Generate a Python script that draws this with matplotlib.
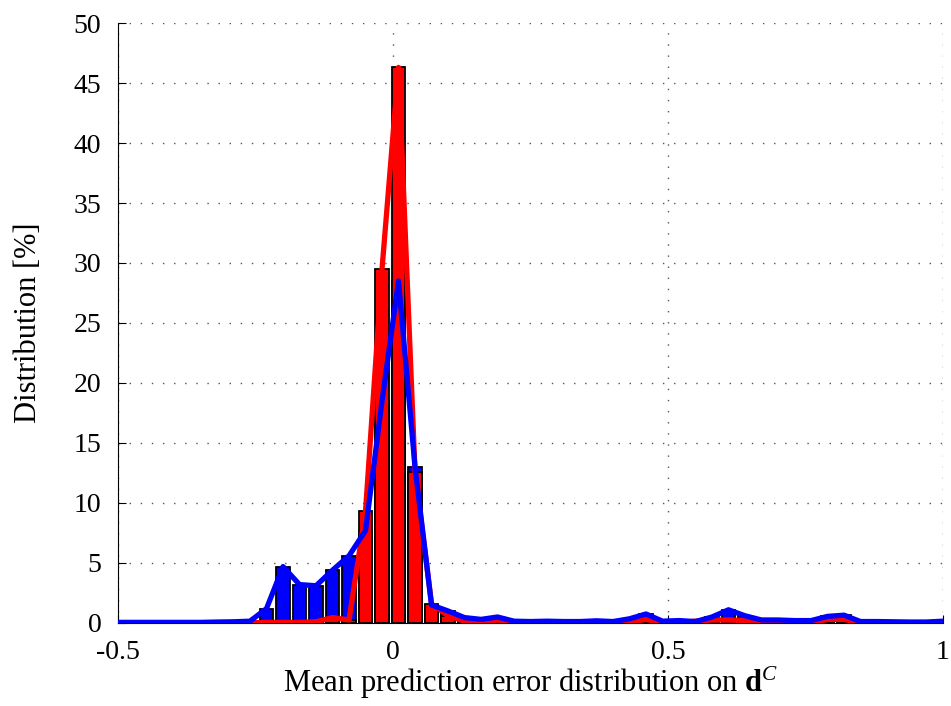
import numpy as np
import matplotlib
matplotlib.use('Agg')
import matplotlib.pyplot as plt

# bin centres of the error histogram
bin_centers = [-0.50, -0.47, -0.44, -0.41, -0.38, -0.35, -0.32, -0.29, -0.26, -0.23,
               -0.20, -0.17, -0.14, -0.11, -0.08, -0.05, -0.02, 0.01, 0.04, 0.07,
               0.10, 0.13, 0.16, 0.19, 0.22, 0.25, 0.28, 0.31, 0.34, 0.37,
               0.40, 0.43, 0.46, 0.49, 0.52, 0.55, 0.58, 0.61, 0.64, 0.67,
               0.70, 0.73, 0.76, 0.79, 0.82, 0.85, 0.88, 0.91, 0.94, 0.97, 1.00]

# blue series [%]
blue_dist = [0.05, 0.05, 0.05, 0.05, 0.05, 0.05, 0.08, 0.10, 0.15, 1.2,
             4.7, 3.2, 3.1, 4.4, 5.6, 7.7, 18.5, 28.5, 13.0, 1.5,
             1.0, 0.45, 0.3, 0.5, 0.15, 0.12, 0.15, 0.12, 0.12, 0.18,
             0.12, 0.35, 0.75, 0.15, 0.2, 0.12, 0.5, 1.1, 0.6, 0.25,
             0.25, 0.2, 0.2, 0.55, 0.65, 0.12, 0.12, 0.1, 0.08, 0.08, 0.15]

# red series [%]
red_dist = [0.0, 0.0, 0.0, 0.0, 0.0, 0.0, 0.0, 0.0, 0.0, 0.05,
            0.05, 0.05, 0.1, 0.45, 0.25, 9.3, 29.5, 46.3, 12.6, 1.6,
            0.6, 0.15, 0.05, 0.25, 0.02, 0.02, 0.02, 0.02, 0.02, 0.02,
            0.02, 0.1, 0.3, 0.02, 0.02, 0.15, 0.25, 0.25, 0.2, 0.1,
            0.03, 0.03, 0.03, 0.3, 0.3, 0.02, 0.0, 0.0, 0.0, 0.0, 0.0]

x_ticks = [-0.5, 0, 0.5, 1]
x_ticklabels = ['-0.5', '0', '0.5', '1']
y_ticks = [0, 5, 10, 15, 20, 25, 30, 35, 40, 45, 50]

plt.rcParams['font.family'] = ['Liberation Serif', 'DejaVu Serif']
plt.rcParams['mathtext.fontset'] = 'custom'
plt.rcParams['mathtext.rm'] = 'Liberation Serif'
plt.rcParams['mathtext.it'] = 'Liberation Serif:italic'
plt.rcParams['mathtext.bf'] = 'Liberation Serif:bold'

fig = plt.figure(figsize=(9.51, 7.06), dpi=100)
ax = fig.add_axes([0.1241, 0.1176, 0.8675, 0.8498])

x = np.array(bin_centers)
w = 0.024
ax.bar(x, blue_dist, width=w, color='#0000ff', edgecolor='black', linewidth=1.3, zorder=2)
ax.bar(x, red_dist, width=w, color='#ff0000', edgecolor='black', linewidth=1.3, zorder=3)
ax.plot(x, red_dist, color='#ff0000', lw=3.8, zorder=4, solid_joinstyle='round')
ax.plot(x, blue_dist, color='#0000ff', lw=3.8, zorder=5, solid_joinstyle='round')

ax.set_xlim(-0.5, 1)
ax.set_ylim(0, 50)
ax.set_xticks(x_ticks)
ax.set_xticklabels(x_ticklabels)
ax.set_yticks(y_ticks)
ax.tick_params(direction='in', length=6, width=0.8, labelsize=20)
ax.tick_params(axis='x', pad=12)
ax.tick_params(axis='y', pad=12)
ax.grid(True, linestyle=(0, (1, 7)), color='#555555', linewidth=1.0, zorder=0)
ax.set_axisbelow(True)
for side in ['top', 'right']:
    ax.spines[side].set_visible(False)

ax.set_xlabel(r'Mean prediction error distribution on $\mathbf{d}^{C}$', fontsize=22, labelpad=0)
ax.set_ylabel('Distribution [%]', fontsize=22, labelpad=22)

fig.savefig('out.png', dpi=100)
